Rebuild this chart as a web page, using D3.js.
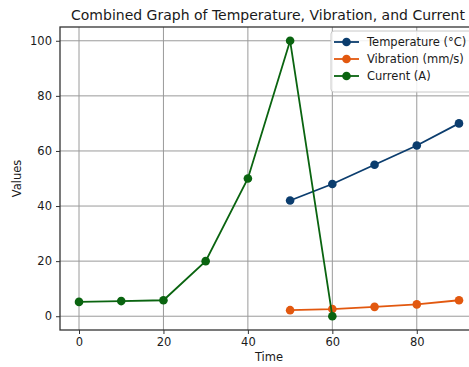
<!DOCTYPE html>
<html>
<head>
<meta charset="utf-8">
<script src="https://cdn.jsdelivr.net/npm/d3@7"></script>
<style>
  body { margin: 0; background: #fff; }
  text { font-family: "DejaVu Sans", sans-serif; fill: #1a1a1a; }
</style>
</head>
<body>
<div id="chart"></div>
<script>
const timeCurrent = [0, 10, 20, 30, 40, 50, 60];
const currentVals = [5.2, 5.5, 5.8, 20, 50, 100, 0];
const timeLate = [50, 60, 70, 80, 90];
const temperatureVals = [42, 48, 55, 62, 70];
const vibrationVals = [2.2, 2.6, 3.4, 4.3, 5.8];
const xTicks = [0, 20, 40, 60, 80];
const yTicks = [0, 20, 40, 60, 80, 100];

const series = [
  { name: "Temperature (°C)", x: timeLate, y: temperatureVals, color: "#0b3d6e" },
  { name: "Vibration (mm/s)", x: timeLate, y: vibrationVals, color: "#e2580f" },
  { name: "Current (A)", x: timeCurrent, y: currentVals, color: "#0a6410" }
];

const W = 469, H = 367;
const mLeft = 60, mRight = 478, mTop = 27, mBottom = 330;

const svg = d3.select("#chart").append("svg")
  .attr("width", W).attr("height", H);

const x = d3.scaleLinear().domain([-4.5, 94.5]).range([mLeft, mRight]);
const y = d3.scaleLinear().domain([-5, 105]).range([mBottom, mTop]);

// grid
svg.append("g").selectAll("line").data(xTicks).join("line")
  .attr("x1", d => x(d)).attr("x2", d => x(d))
  .attr("y1", mTop).attr("y2", mBottom)
  .attr("stroke", "#9a9a9a").attr("stroke-width", 1);
svg.append("g").selectAll("line").data(yTicks).join("line")
  .attr("x1", mLeft).attr("x2", mRight)
  .attr("y1", d => y(d)).attr("y2", d => y(d))
  .attr("stroke", "#9a9a9a").attr("stroke-width", 1);

// axes
const xAxis = svg.append("g").attr("transform", `translate(0,${mBottom})`)
  .call(d3.axisBottom(x).tickValues(xTicks).tickSize(4).tickPadding(4));
const yAxis = svg.append("g").attr("transform", `translate(${mLeft},0)`)
  .call(d3.axisLeft(y).tickValues(yTicks).tickSize(4).tickPadding(4));
[xAxis, yAxis].forEach(a => {
  a.selectAll("text").style("font-size", "11.5px").attr("fill", "#1a1a1a");
  a.selectAll("line").attr("stroke", "#333");
  a.select(".domain").remove();
});

// frame
svg.append("rect")
  .attr("x", mLeft).attr("y", mTop)
  .attr("width", mRight - mLeft).attr("height", mBottom - mTop)
  .attr("fill", "none").attr("stroke", "#333").attr("stroke-width", 1.3);

// lines
const line = d3.line().x(d => x(d[0])).y(d => y(d[1]));
series.forEach(s => {
  const pts = s.x.map((t, i) => [t, s.y[i]]);
  svg.append("path").datum(pts)
    .attr("d", line).attr("fill", "none")
    .attr("stroke", s.color).attr("stroke-width", 1.8);
  svg.append("g").selectAll("circle").data(pts).join("circle")
    .attr("cx", d => x(d[0])).attr("cy", d => y(d[1]))
    .attr("r", 4.3).attr("fill", s.color);
});

// title and labels
svg.append("text").attr("x", (mLeft + mRight) / 2 - 1).attr("y", 20)
  .attr("text-anchor", "middle").style("font-size", "14px")
  .text("Combined Graph of Temperature, Vibration, and Current");
svg.append("text").attr("x", (mLeft + mRight) / 2).attr("y", 361)
  .attr("text-anchor", "middle").style("font-size", "11.5px").text("Time");
svg.append("text").attr("transform", `translate(21,${(mTop + mBottom) / 2}) rotate(-90)`)
  .attr("text-anchor", "middle").style("font-size", "11.5px").text("Values");

// legend
const lg = svg.append("g").attr("transform", "translate(331,31)");
lg.append("rect").attr("width", 142).attr("height", 61).attr("rx", 3)
  .attr("fill", "#fff").attr("fill-opacity", 0.85)
  .attr("stroke", "#c8c8c8");
series.forEach((s, i) => {
  const gy = 11 + i * 17;
  lg.append("line").attr("x1", 3).attr("x2", 28).attr("y1", gy).attr("y2", gy)
    .attr("stroke", s.color).attr("stroke-width", 1.8);
  lg.append("circle").attr("cx", 15.5).attr("cy", gy).attr("r", 4.3).attr("fill", s.color);
  lg.append("text").attr("x", 36).attr("y", gy + 4)
    .style("font-size", "11.5px").text(s.name);
});
</script>
</body>
</html>
